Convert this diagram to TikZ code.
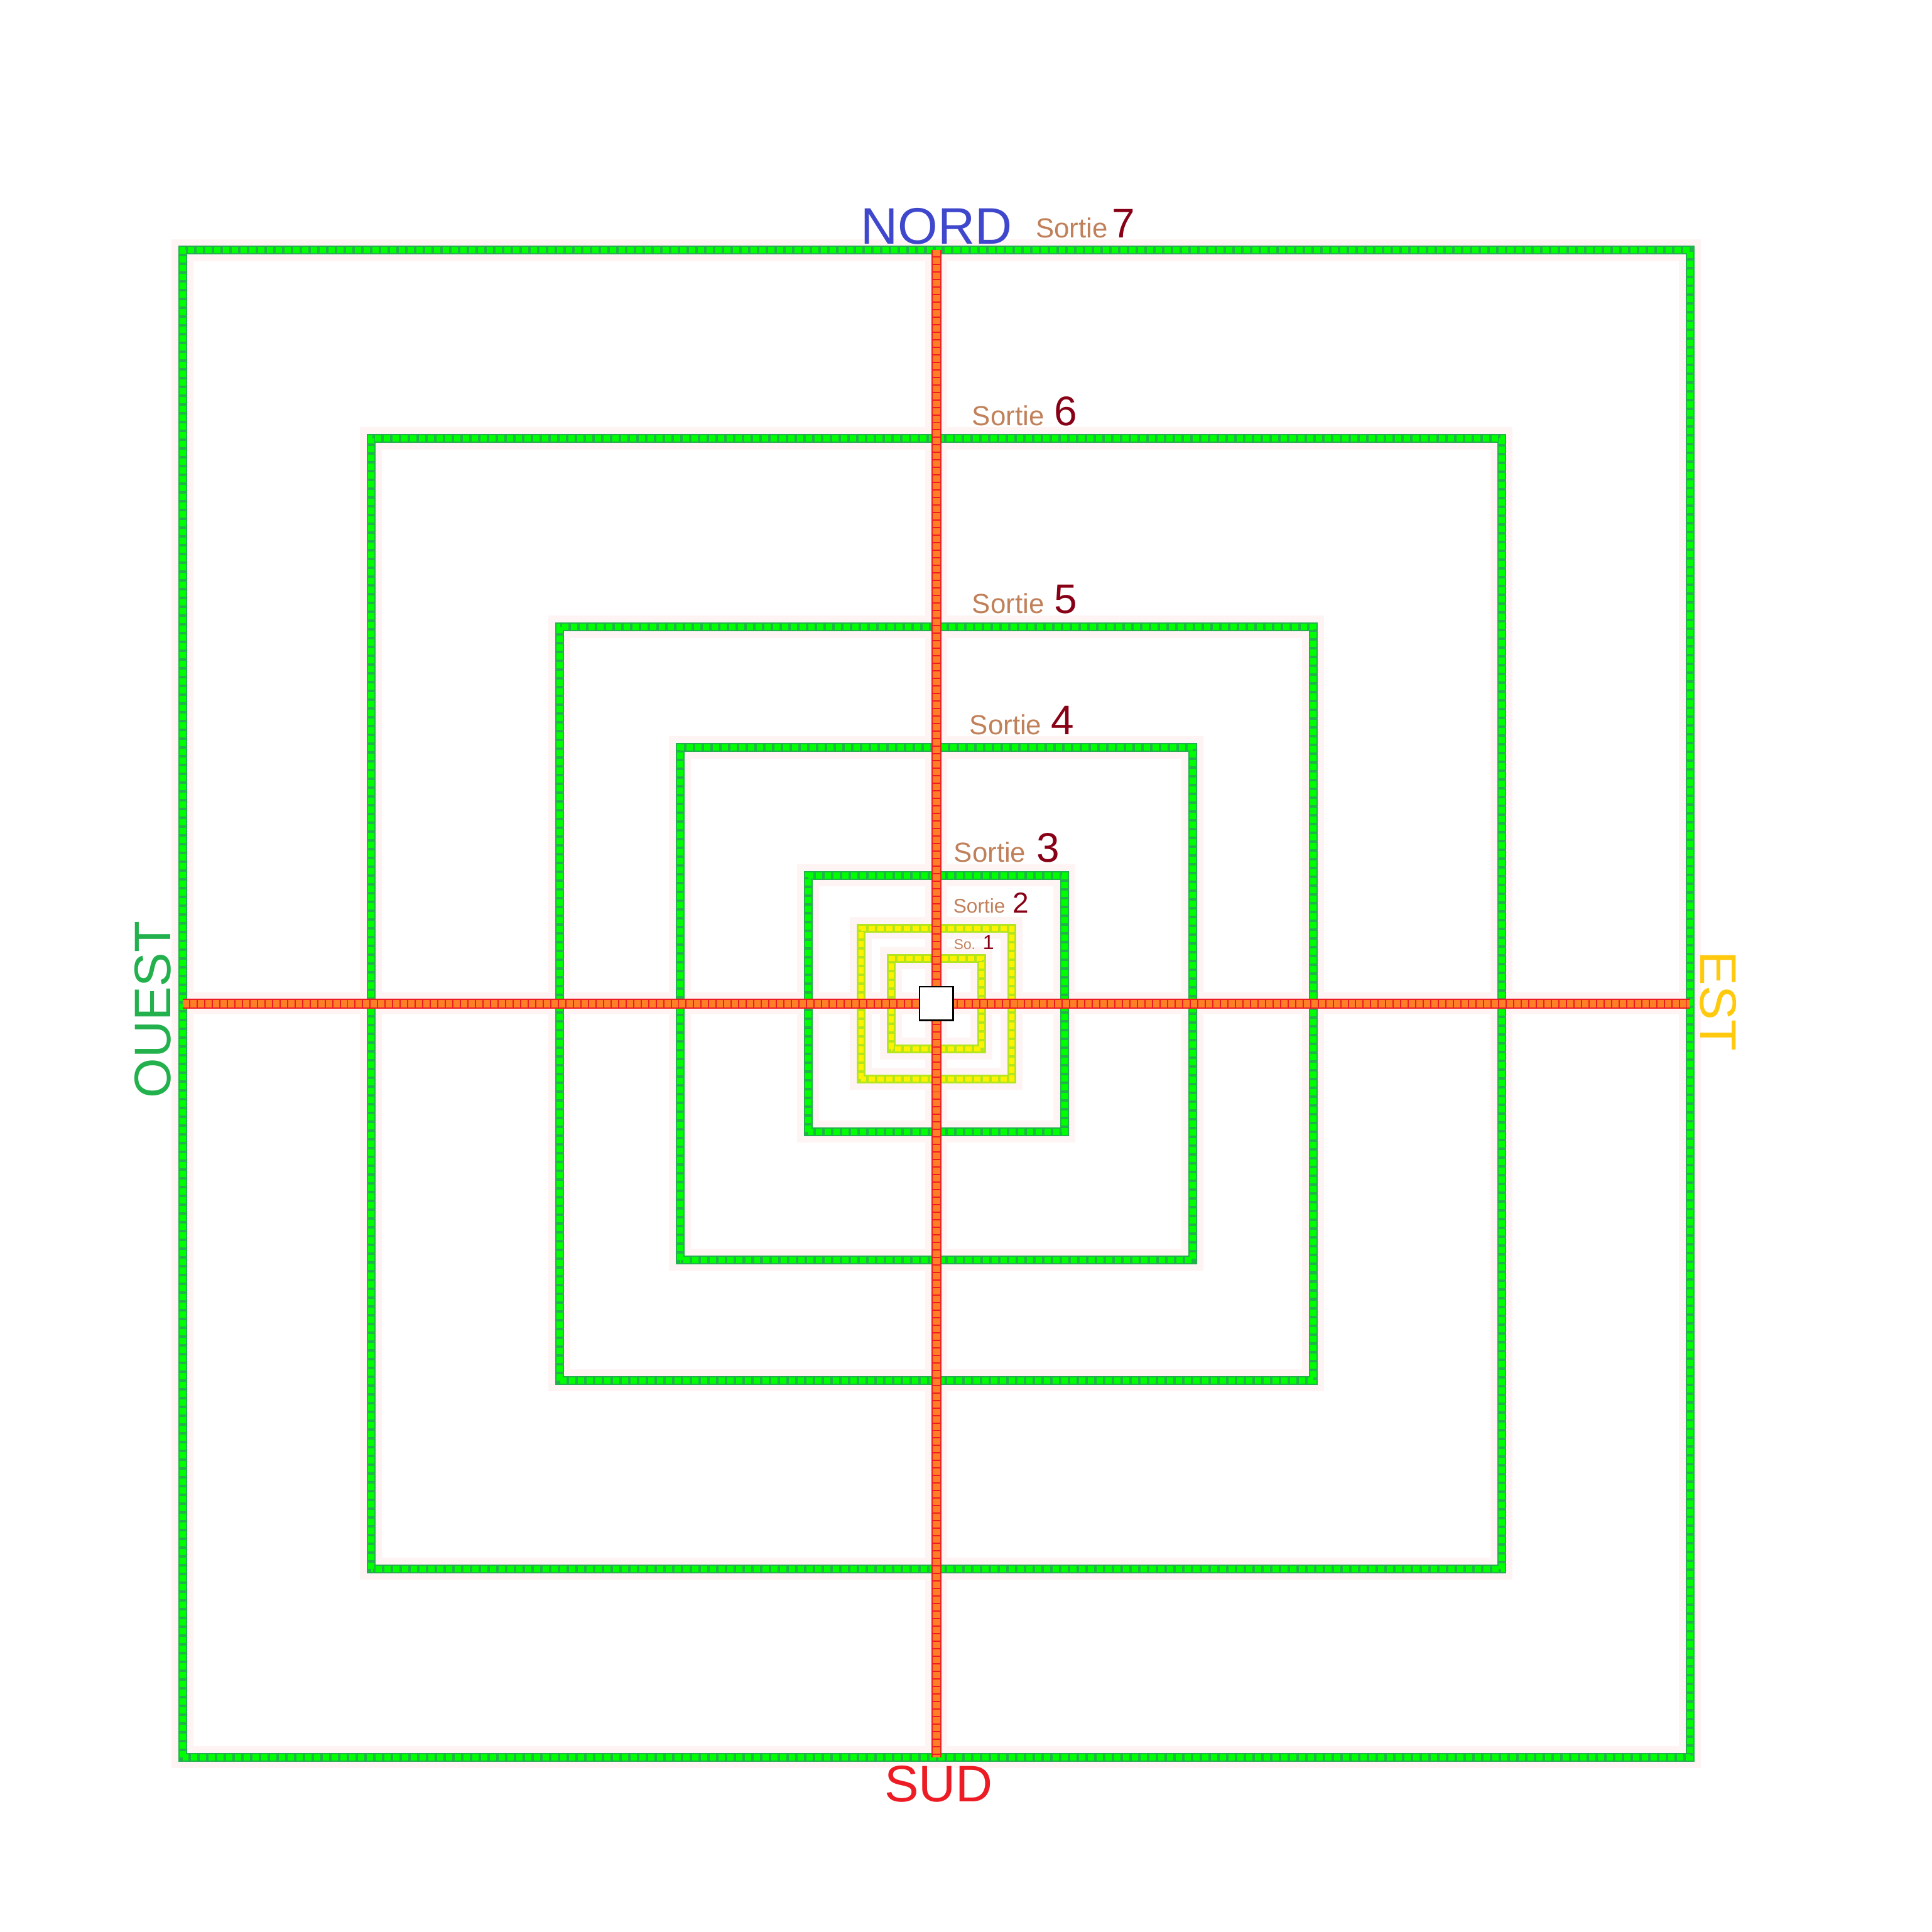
\documentclass[tikz,border=0pt]{standalone}
\usepackage{fontspec}
\setmainfont{Liberation Sans}
\usepackage{tikz}
\usetikzlibrary{positioning}
\definecolor{ringgreen}{RGB}{34,177,76}
\definecolor{ringlime}{RGB}{0,255,0}
\definecolor{corelime}{RGB}{181,230,29}
\definecolor{coreyellow}{RGB}{255,242,0}
\definecolor{axisred}{RGB}{237,28,36}
\definecolor{axisorange}{RGB}{255,127,39}
\definecolor{halopink}{RGB}{255,244,244}
\definecolor{nordblue}{RGB}{63,72,204}
\definecolor{sudred}{RGB}{237,28,36}
\definecolor{ouestgreen}{RGB}{34,177,76}
\definecolor{estgold}{RGB}{255,201,14}
\definecolor{sortiebrown}{RGB}{192,128,90}
\definecolor{sortiered}{RGB}{136,0,21}
\newcommand{\exittext}[5]{{\color{sortiebrown}\fontsize{#1}{#1}\selectfont #3}\hspace{#4}{\color{sortiered}\fontsize{#2}{#2}\selectfont #5}}

\begin{document}
\begin{tikzpicture}[
  halo/.style={draw=halopink,line width=8.3pt},
  ringbase/.style={draw=ringgreen,line width=3.3pt},
  ringtop/.style={draw=ringlime,line width=2.37pt,dash pattern=on 2.37pt off 0.95pt},
  corebase/.style={draw=corelime,line width=3.1pt},
  coretop/.style={draw=coreyellow,line width=2.1pt,dash pattern=on 2.37pt off 0.95pt},
  axisbase/.style={draw=axisred,line width=4pt},
  axistop/.style={draw=axisorange,line width=2.85pt,dash pattern=on 2.37pt off 0.47pt},
  cardinal/.style={inner sep=0pt,anchor=base,font=\fontsize{19.4}{20}\selectfont},
  exitlabel/.style={inner sep=0pt,anchor=base west}]

  \useasboundingbox (-12.425,-12.317) rectangle (13.208,13.317);

  \coordinate (nord) at (0,10);
  \coordinate (sud) at (0,-10);
  \coordinate (ouest) at (-10,0);
  \coordinate (est) at (10,0);

  % halos
  \foreach \h in {0.6,1,1.7,3.4,5,7.5,10}
    \draw[halo] (-\h,-\h) rectangle (\h,\h);
  \draw[halo] (nord) -- (sud);
  \draw[halo] (ouest) -- (est);

  % rings
  \foreach \h in {1.7,3.4,5,7.5,10}{
    \draw[ringbase] (-\h,-\h) rectangle (\h,\h);
    \draw[ringtop] (-\h,-\h) rectangle (\h,\h);
  }
  \foreach \h in {0.6,1}{
    \draw[corebase] (-\h,-\h) rectangle (\h,\h);
    \draw[coretop] (-\h,-\h) rectangle (\h,\h);
  }

  % axes
  \draw[axisbase] (nord) -- (sud);
  \draw[axistop] (nord) -- (sud);
  \draw[axisbase] (ouest) -- (est);
  \draw[axistop] (ouest) -- (est);

  \node[draw=black,line width=0.6pt,fill=white,minimum size=0.446cm,inner sep=0pt] (centre) at (0,0) {};

  \node[cardinal,text=nordblue] (nordlabel) at (0,10.08) {NORD};
  \node[cardinal,text=sudred] (sudlabel) at (0.03,-10.59) {SUD};
  \node[cardinal,text=ouestgreen,rotate=90] (ouestlabel) at (-10.16,-0.08) {OUEST};
  \node[cardinal,text=estgold,rotate=-90] (estlabel) at (10.14,0.03) {EST};

  \node[exitlabel] (exit7) at (1.31,10.16) {\exittext{10.4}{15.6}{Sortie}{0.06cm}{7}};
  \node[exitlabel] (exit6) at (0.467,7.675) {\exittext{10.4}{15.6}{Sortie}{0.13cm}{6}};
  \node[exitlabel] (exit5) at (0.467,5.175) {\exittext{10.4}{15.6}{Sortie}{0.13cm}{5}};
  \node[exitlabel] (exit4) at (0.433,3.567) {\exittext{10.4}{15.6}{Sortie}{0.13cm}{4}};
  \node[exitlabel] (exit3) at (0.225,1.875) {\exittext{10.4}{15.6}{Sortie}{0.14cm}{3}};
  \node[exitlabel] (exit2) at (0.217,1.208) {\exittext{7.5}{10.9}{Sortie}{0.1cm}{2}};
  \node[exitlabel] (exit1) at (0.225,0.717) {\exittext{5.4}{7.6}{So.}{0.1cm}{1}};

\end{tikzpicture}
\end{document}
